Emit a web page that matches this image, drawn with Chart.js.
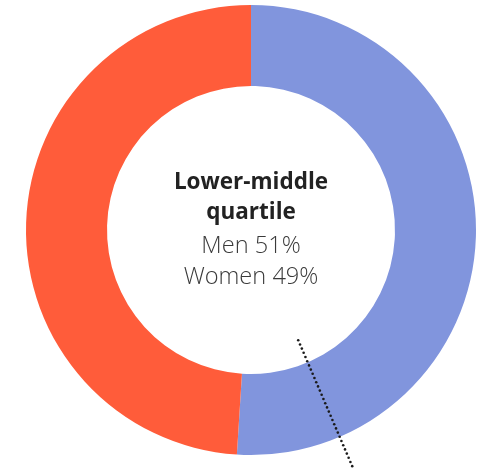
<!DOCTYPE html>
<html>
<head>
<meta charset="utf-8">
<script src="https://cdn.jsdelivr.net/npm/chart.js@4.4.0/dist/chart.umd.min.js"></script>
<style>
    html, body { margin: 0; padding: 0; background: #fff; }
    #wrap { width: 484px; height: 471px; position: relative; }
</style>
</head>
<body>
<div id="wrap"><canvas id="chart"></canvas></div>
<script>
var labels = ['Men', 'Women'];
var shares = [51, 49];
var colors = ['#8195dd', '#ff5c3a'];
var title = ['Lower-middle', 'quartile'];

// dotted radial marker on the ring (degrees clockwise from the top)
var markerAngle = 156.8;

var centerText = {
    id: 'centerText',
    afterDraw: function(chart) {
        var ctx = chart.ctx;
        var meta = chart.getDatasetMeta(0);
        var arc = meta.data[0];
        var cx = arc.x, cy = arc.y;
        var outer = arc.outerRadius;

        // marker line
        var a = (markerAngle - 90) * Math.PI / 180;
        var r0 = outer * 0.533, r1 = outer * 1.142;
        var len = r1 - r0;
        var n = Math.round(len / 4.6);
        ctx.save();
        ctx.fillStyle = '#1a1a1a';
        for (var i = 0; i <= n; i++) {
            var r = r0 + len * i / n;
            ctx.beginPath();
            ctx.arc(cx + Math.cos(a) * r, cy + Math.sin(a) * r, 1.3, 0, Math.PI * 2);
            ctx.fill();
        }

        ctx.textAlign = 'center';
        ctx.textBaseline = 'alphabetic';
        ctx.fillStyle = '#222';
        ctx.font = 'bold 22.5px "Open Sans", sans-serif';
        ctx.fillText(title[0], cx, 189);
        ctx.fillText(title[1], cx, 219);
        ctx.fillStyle = '#3a3a3a';
        ctx.font = '300 23.6px "Open Sans", sans-serif';
        for (var k = 0; k < labels.length; k++) {
            ctx.fillText(labels[k] + ' ' + shares[k] + '%', cx, 253 + k * 31);
        }
        ctx.restore();
    }
};

var initChart = function() {
    var el = document.getElementById('chart');
    new Chart(el, {
        type: 'doughnut',
        data: {
            labels: labels,
            datasets: [{
                data: shares,
                backgroundColor: colors,
                borderWidth: 0,
                hoverOffset: 0
            }]
        },
        options: {
            responsive: true,
            maintainAspectRatio: false,
            animation: false,
            cutout: '64%',
            layout: { padding: { left: 18, right: 0, top: 5, bottom: 16 } },
            plugins: {
                legend: { display: false },
                tooltip: { enabled: false }
            }
        },
        plugins: [centerText]
    });
};

window.onload = initChart;
</script>
</body>
</html>
